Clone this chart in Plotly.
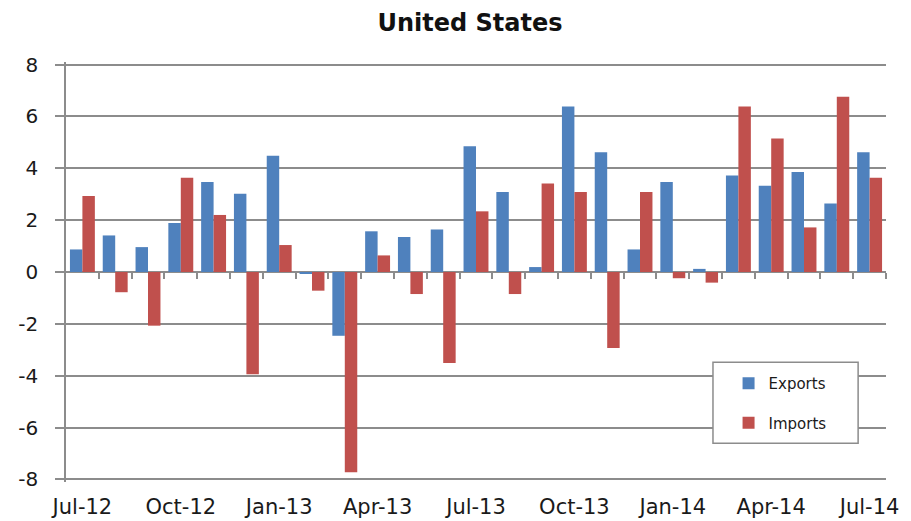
"""US exports / imports monthly change, grouped bars."""

import plotly.graph_objects as go

months = [
    "Jul-12", "Aug-12", "Sep-12", "Oct-12", "Nov-12", "Dec-12",
    "Jan-13", "Feb-13", "Mar-13", "Apr-13", "May-13", "Jun-13",
    "Jul-13", "Aug-13", "Sep-13", "Oct-13", "Nov-13", "Dec-13",
    "Jan-14", "Feb-14", "Mar-14", "Apr-14", "May-14", "Jun-14", "Jul-14",
]
exports = [
    0.87, 1.41, 0.96, 1.89, 3.47, 3.02,
    4.48, -0.06, -2.46, 1.57, 1.35, 1.64,
    4.85, 3.09, 0.19, 6.38, 4.62, 0.87,
    3.47, 0.12, 3.72, 3.33, 3.86, 2.64, 4.62,
]
imports = [
    2.93, -0.78, -2.07, 3.64, 2.20, -3.94,
    1.04, -0.72, -7.72, 0.64, -0.85, -3.51,
    2.34, -0.85, 3.41, 3.09, -2.93, 3.09,
    -0.24, -0.41, 6.38, 5.15, 1.72, 6.76, 3.64,
]
y_ticks = [-8, -6, -4, -2, 0, 2, 4, 6, 8]

BLUE = "#4F81BD"
RED = "#C0504D"
GRID = "#8c8c8c"
FONT = "DejaVu Sans"

x = list(range(len(months)))

fig = go.Figure()
fig.add_trace(go.Bar(x=x, y=exports, name="Exports", marker_color=BLUE,
                     marker_line_width=0, legendgroup="e"))
fig.add_trace(go.Bar(x=x, y=imports, name="Imports", marker_color=RED,
                     marker_line_width=0, legendgroup="i"))

# legend frame (white box over the gridlines, like the excel original)
fig.add_shape(type="rect", xref="paper", yref="paper",
              x0=0.789, x1=0.966, y0=0.092, y1=0.285,
              fillcolor="white", line=dict(color=GRID, width=1.5), layer="above")

# page body has an 8px margin, so the figure is a bit smaller than the window
fig.update_layout(
    width=903,
    height=513,
    title=dict(text="<b>United States</b>", x=0.5116, xanchor="center",
               y=0.971, yanchor="middle",
               font=dict(family=FONT, size=24, color="#111111")),
    barmode="group",
    bargap=0.24,
    bargroupgap=0,
    plot_bgcolor="white",
    paper_bgcolor="white",
    font=dict(family=FONT, color="#1a1a1a"),
    margin=dict(l=58, r=25, t=54, b=39),
    xaxis=dict(
        range=[-0.5, len(months) - 0.5],
        anchor="free",
        position=0.5,
        automargin=False,
        tickmode="array",
        tickvals=x[::3],
        ticktext=months[::3],
        ticks="",
        ticklabelstandoff=220,
        tickfont=dict(size=21),
        showgrid=False,
        showline=False,
        zeroline=False,
        minor=dict(tickmode="array", tickvals=[i + 0.5 for i in x],
                   ticks="outside", ticklen=6, tickcolor=GRID, tickwidth=1.5,
                   showgrid=False),
    ),
    yaxis=dict(
        range=[-8.1, 8.1],
        automargin=False,
        tickmode="array",
        tickvals=y_ticks,
        ticktext=[str(v) for v in y_ticks],
        ticks="outside",
        ticklen=9,
        tickcolor=GRID,
        tickwidth=1.5,
        ticklabelstandoff=13,
        tickfont=dict(size=20),
        showgrid=True,
        gridcolor=GRID,
        gridwidth=1.5,
        showline=True,
        linecolor=GRID,
        linewidth=1.5,
        zeroline=True,
        zerolinecolor=GRID,
        zerolinewidth=1.5,
    ),
    legend=dict(
        x=0.808, y=0.274, xanchor="left", yanchor="top",
        bgcolor="rgba(0,0,0,0)",
        borderwidth=0,
        tracegroupgap=17,
        font=dict(size=15, color="#1a1a1a"),
        itemwidth=30,
    ),
    showlegend=True,
)

fig.write_html("out.html")
